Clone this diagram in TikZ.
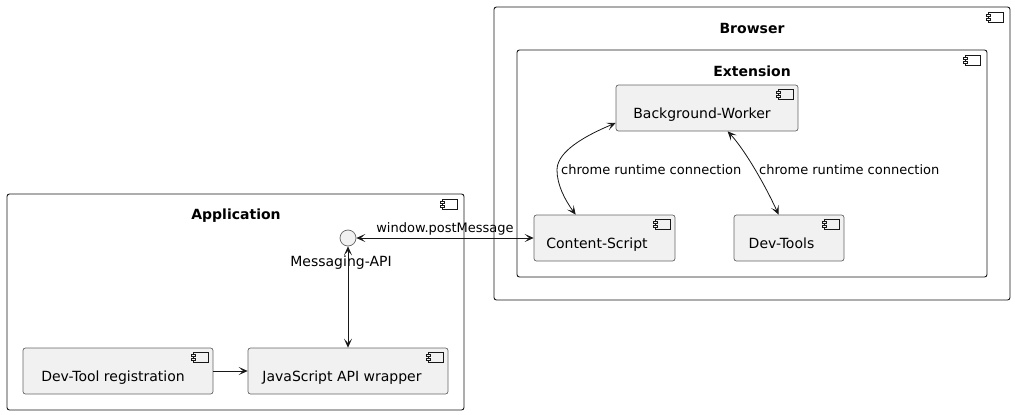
\documentclass[tikz,border=0pt]{standalone}
\usepackage{fontspec}
\setmainfont{DejaVu Sans}
\usepackage{tikz}
\usepackage{xcolor}
\usetikzlibrary{arrows.meta, positioning, calc}

\definecolor{compfill}{HTML}{F1F1F1}
\definecolor{linecol}{HTML}{181818}

\tikzset{
  frame/.style={draw=linecol, line width=0.9pt, rounded corners=2.5pt, fill=white},
  frametitle/.style={font=\bfseries\fontsize{14}{16}\selectfont, anchor=center},
  comp/.style={draw=black!60, line width=0.7pt, rounded corners=2.5pt, fill=compfill,
    minimum height=46pt, font=\fontsize{14}{16}\selectfont, inner sep=0pt,
    text height=21pt, text depth=0pt},
  iface/.style={draw=black!60, line width=0.7pt, fill=compfill, circle, minimum size=16pt, inner sep=0pt},
  conn/.style={draw=linecol, line width=0.8pt, {Stealth[length=9pt,width=8pt,inset=4.5pt]}-{Stealth[length=9pt,width=8pt,inset=4.5pt]}},
  oneway/.style={draw=linecol, line width=0.8pt, -{Stealth[length=9pt,width=8pt,inset=4.5pt]}},
  lbl/.style={font=\fontsize{13}{15}\selectfont, inner sep=1pt},
  compicon/.pic={
    \draw[pic actions, draw=linecol, line width=0.5pt] (-15,0) rectangle (0,10);
    \draw[pic actions, draw=linecol, line width=0.5pt] (-17,2) rectangle (-13,4);
    \draw[pic actions, draw=linecol, line width=0.5pt] (-17,6) rectangle (-13,8);
  }
}

\begin{document}
\begin{tikzpicture}[x=1pt, y=-1pt]
\useasboundingbox (0,0) rectangle (1015,415);
% Outer frames
\node[frame, minimum width=516pt, minimum height=293pt] (browser) at (752,153.5) {};
\node[frametitle] (browsertitle) at (752,28) {Browser};
\pic[fill=white] at ([xshift=-7pt,yshift=-6pt]browser.north east) {compicon};
\node[frame, minimum width=470pt, minimum height=227pt] (extension) at (752,163.5) {};
\node[frametitle] (extensiontitle) at (752,71) {Extension};
\pic[fill=white] at ([xshift=-7pt,yshift=-6pt]extension.north east) {compicon};
\node[frame, minimum width=457pt, minimum height=216pt] (application) at (235.5,302) {};
\node[frametitle] (applicationtitle) at (236,215.5) {Application};
\pic[fill=white] at ([xshift=-7pt,yshift=-6pt]application.north east) {compicon};
% Components
\node[comp, minimum width=182pt] (bgworker) at (707,108) {\hspace*{-10pt}Background-Worker};
\node[comp, minimum width=141pt] (contentscript) at (604.5,238) {\hspace*{-15pt}Content-Script};
\node[comp, minimum width=110pt] (devtools) at (789,238) {\hspace*{-15pt}Dev-Tools};
\node[comp, minimum width=190pt] (devtoolreg) at (118,371) {\hspace*{-10pt}Dev-Tool registration};
\node[comp, minimum width=200pt] (jswrapper) at (348,371) {\hspace*{-12pt}JavaScript API wrapper};
\foreach \c in {bgworker, contentscript, devtools, devtoolreg, jswrapper}
  \pic[fill=compfill] at ([xshift=-5pt,yshift=-5pt]\c.north east) {compicon};
% Interface
\node[iface] (msgapi) at (348,238) {};
\node[lbl, font=\fontsize{14}{16}\selectfont] (msgapilabel) at (341,263) {Messaging-API};
% Connections
\draw[conn] ([yshift=-15pt]bgworker.west) .. controls (575,140) and (557,155) .. (557,170)
  .. controls (557,185) and (565,200) .. ([xshift=42pt]contentscript.north west);
\node[lbl, anchor=west] (rtleft) at (560,170) {chrome runtime connection};
\draw[conn] ([xshift=112pt]bgworker.south west) .. controls (745,150) and (765,185) .. ([xshift=45pt]devtools.north west);
\node[lbl, anchor=west] (rtright) at (758,170) {chrome runtime connection};
\draw[conn] (msgapi.east) -- node[lbl, midway, above=1pt] (wpm) {window.postMessage} (contentscript.west);
\draw[conn] (msgapi.south) -- (jswrapper.north);
\draw[oneway] (devtoolreg.east) -- (jswrapper.west);
\end{tikzpicture}
\end{document}
